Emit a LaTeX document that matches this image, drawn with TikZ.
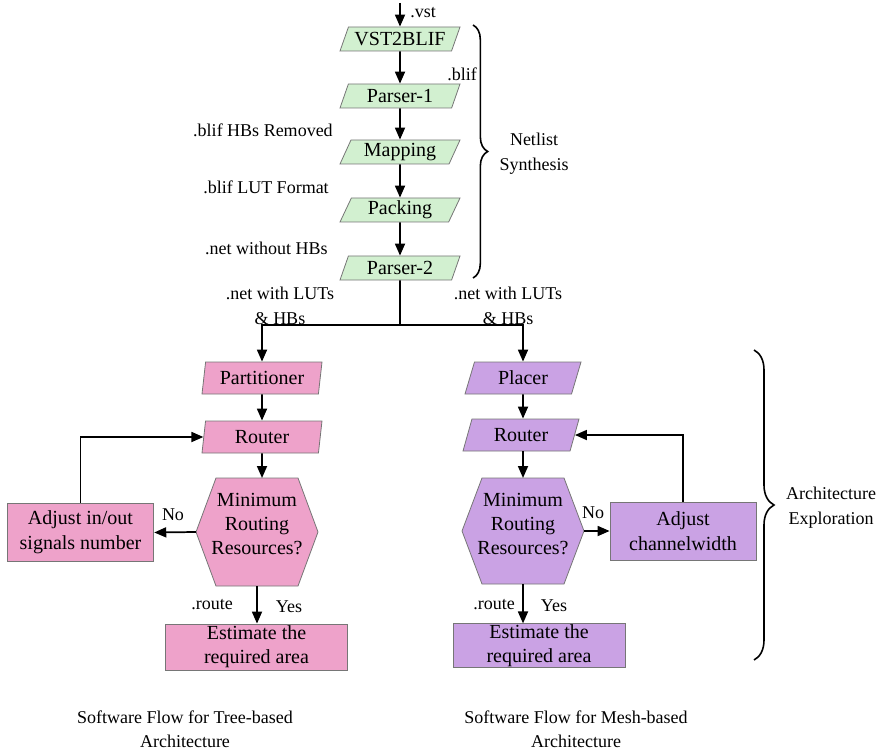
\documentclass[tikz,border=0pt]{standalone}
\usepackage{fontspec}
\setmainfont{Liberation Serif}
\usetikzlibrary{arrows.meta,shapes.geometric,decorations.pathreplacing,calc}
\definecolor{flowgreen}{RGB}{210,240,208}
\definecolor{flowpink}{RGB}{238,162,202}
\definecolor{flowviolet}{RGB}{202,162,228}
\definecolor{edgegray}{RGB}{118,118,118}
\begin{document}
\begin{tikzpicture}[x=0.75pt,y=-0.75pt,
  boxfont/.style={font=\fontsize{15}{18}\selectfont},
  lbl/.style={font=\fontsize{13.5}{17}\selectfont, inner sep=0pt, align=center},
  slanted/.style={trapezium, trapezium stretches body, draw=edgegray, line width=0.6pt,
    inner xsep=1pt, inner ysep=0pt, boxfont},
  greenstep/.style={slanted, fill=flowgreen, trapezium left angle=58, trapezium right angle=122,
    minimum width=90pt, minimum height=18pt},
  pinkstep/.style={slanted, fill=flowpink, trapezium left angle=75, trapezium right angle=105,
    minimum width=90pt, minimum height=24pt},
  violetstep/.style={slanted, fill=flowviolet, trapezium left angle=56, trapezium right angle=124,
    minimum width=87pt, minimum height=24pt},
  pinkbox/.style={rectangle, draw=edgegray, line width=0.6pt, fill=flowpink, boxfont,
    align=center, inner sep=0pt},
  violetbox/.style={rectangle, draw=edgegray, line width=0.6pt, fill=flowviolet, boxfont,
    align=center, inner sep=0pt},
  hexfill/.style={draw=edgegray, line width=0.6pt},
  hextext/.style={align=center, inner sep=0pt, font=\fontsize{15}{18}\selectfont},
  flow/.style={line width=1.3pt, -{Triangle[length=9pt,width=7.5pt]}},
  wire/.style={line width=1.3pt},
  bracket/.style={line width=1.2pt, decorate},
]
\useasboundingbox (0,0) rectangle (881,752);

% ---------------- netlist synthesis chain ----------------
\node[greenstep] (v2b)  at (400,39)  {VST2BLIF};
\node[greenstep] (p1)   at (400,96)  {Parser-1};
\node[greenstep] (map)  at (400,152) {Mapping};
\node[greenstep] (pack) at (400,210) {Packing};
\node[greenstep] (p2)   at (400,268) {Parser-2};

\coordinate (vstin) at (400,3);
\draw[flow] (vstin) -- (v2b);
\draw[flow] (v2b) -- (p1);
\draw[flow] (p1) -- (map);
\draw[flow] (map) -- (pack);
\draw[flow] (pack) -- (p2);

\node[lbl, anchor=west] (lvst) at (410,13) {.vst};
\node[lbl] (lblif) at (462,74) {.blif};
\node[lbl, anchor=east] (lhb) at (333,130) {.blif HBs Removed};
\node[lbl, anchor=east] (llut) at (329,187) {.blif LUT Format};
\node[lbl, anchor=east] (lnet) at (328,248) {.net without HBs};
\node[lbl] (lnetL) at (280,306) {.net with LUTs\\[2pt]\& HBs};
\node[lbl] (lnetR) at (508,306) {.net with LUTs\\[2pt]\& HBs};

\coordinate (nsTop) at (473,25);
\coordinate (nsBot) at (473,278);
\draw[bracket, decoration={brace, amplitude=11pt}] (nsTop) -- (nsBot);
\node[lbl] (lns) at (534,154) {Netlist\\[2pt]Synthesis};

% ---------------- split into the two flows ----------------
\coordinate (split) at (400,325);
\node[pinkstep]   (part)    at (262,378) {Partitioner};
\node[violetstep] (placer)  at (523,378) {Placer};
\draw[wire] (p2) -- (split);
\draw[flow] (split) -| (part);
\draw[flow] (split) -| (placer);

% ---------------- tree-based flow ----------------
\node[pinkstep] (routL) at (262,437) {Router};
\draw[flow] (part) -- (routL);

\coordinate (hexL) at (257,532);
\filldraw[hexfill, fill=flowpink] ($(hexL)+(-61,0)$) -- ++(20,-54) -- ++(82,0) -- ++(20,54)
  -- ++(-20,54) -- ++(-82,0) -- cycle;
\node[hextext] (hexLt) at ($(hexL)+(0,-8)$) {Minimum\\Routing\\Resources?};
\coordinate (hexLn) at ($(hexL)+(0,-54)$);
\coordinate (hexLs) at ($(hexL)+(0,54)$);
\coordinate (hexLw) at ($(hexL)+(-61,0)$);
\draw[flow] (routL) -- (routL.south |- hexLn);

\node[pinkbox, minimum width=110pt, minimum height=44pt] (adjL) at (80.5,532.5)
  {Adjust in/out\\[1pt]signals number};
\draw[flow] (hexLw) -- (adjL.east);
\node[lbl] (noL) at (173,515) {No};
\draw[flow] (adjL.north) |- (routL.west);

\node[pinkbox, minimum width=137pt, minimum height=34.5pt] (estL) at (256.5,647)
  {Estimate the\\[0pt]required area};
\draw[flow] (hexLs) -- (hexLs |- estL.north);
\node[lbl] (routeL) at (212,605) {.route};
\node[lbl] (yesL) at (289,607) {Yes};

% ---------------- mesh-based flow ----------------
\node[violetstep] (routR) at (521,435) {Router};
\draw[flow] (placer) -- (placer.south |- routR.north);

\coordinate (hexR) at (523,531);
\filldraw[hexfill, fill=flowviolet] ($(hexR)+(-61,0)$) -- ++(20,-53) -- ++(82,0) -- ++(20,53)
  -- ++(-20,53) -- ++(-82,0) -- cycle;
\node[hextext] (hexRt) at ($(hexR)+(0,-7)$) {Minimum\\Routing\\Resources?};
\coordinate (hexRn) at ($(hexR)+(0,-53)$);
\coordinate (hexRs) at ($(hexR)+(0,53)$);
\coordinate (hexRe) at ($(hexR)+(61,0)$);
\draw[flow] (routR.south -| hexR) -- (hexRn);

\node[violetbox, minimum width=109.5pt, minimum height=43.5pt] (adjR) at (683,531)
  {Adjust\\[1pt]channelwidth};
\draw[flow] (hexRe) -- (adjR.west);
\node[lbl] (noR) at (593,513) {No};
\draw[flow] (adjR.north) |- (routR.east);

\node[violetbox, minimum width=129pt, minimum height=32.5pt] (estR) at (539,645.5)
  {Estimate the\\[0pt]required area};
\draw[flow] (hexRs) -- (hexRs |- estR.north);
\node[lbl] (routeR) at (494,605) {.route};
\node[lbl] (yesR) at (554,606) {Yes};

\coordinate (aeTop) at (754,350);
\coordinate (aeBot) at (754,660);
\draw[bracket, decoration={brace, amplitude=15pt}] (aeTop) -- (aeBot);
\node[lbl] (lae) at (831,508) {Architecture\\[2pt]Exploration};

% ---------------- captions ----------------
\node[lbl] (capL) at (185,729) {Software Flow for Tree-based\\[1pt]Architecture};
\node[lbl] (capR) at (576,729) {Software Flow for Mesh-based\\[1pt]Architecture};
\end{tikzpicture}
\end{document}
